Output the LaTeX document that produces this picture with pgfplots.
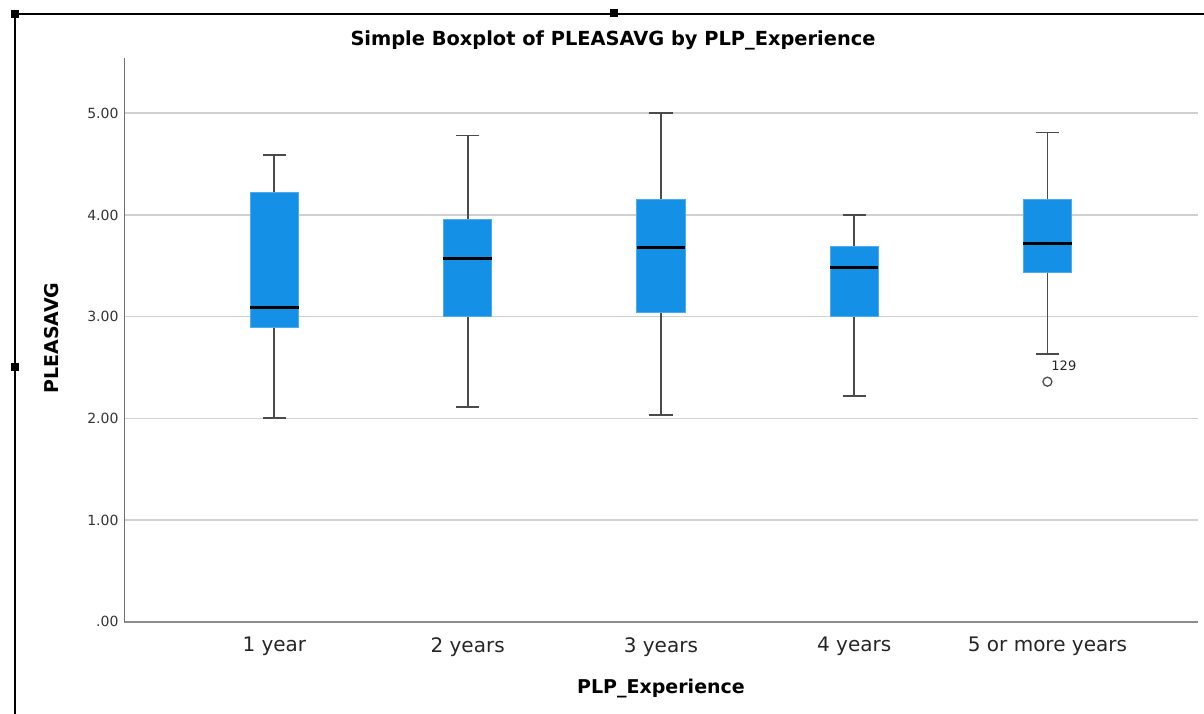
\documentclass[border=0pt]{standalone}
\usepackage{pgfplots}
\pgfplotsset{compat=1.18}
\usepgfplotslibrary{statistics}
\usepackage{fontspec}
\setmainfont{DejaVu Sans}
\definecolor{boxblue}{RGB}{20,145,230}
\definecolor{gridgray}{RGB}{208,208,208}
\definecolor{whisk}{RGB}{75,75,75}
\definecolor{axgray}{RGB}{140,140,140}
\begin{document}
\begin{tikzpicture}[x=1pt,y=1pt]
\path[use as bounding box] (0,0) rectangle (1204,714);
\begin{axis}[
  at={(124pt,92.3pt)}, anchor=south west,
  scale only axis, width=1074pt, height=563.7pt,
  xmin=0.222, xmax=5.779, ymin=0, ymax=5.543,
  axis x line*=bottom, axis y line*=left,
  x axis line style={-, draw=axgray, line width=1.8pt},
  y axis line style={-, draw=axgray!80!black, line width=0.9pt},
  xtick={1,2,3,4,5},
  xticklabels={1 year,2 years,3 years,4 years,5 or more years},
  ytick={0,1,2,3,4,5},
  yticklabels={.00,1.00,2.00,3.00,4.00,5.00},
  ymajorgrids, grid style={gridgray, line width=1.6pt},
  major tick length=0pt,
  x tick label style={font=\fontsize{20}{24}\selectfont, text=black!85, yshift=-12pt},
  y tick label style={font=\fontsize{14}{17}\selectfont, text=black!80, xshift=-2pt},
  boxplot/draw direction=y,
  boxplot/box extend=0.25,
  boxplot/whisker extend=0.12,
  boxplot/every box/.style={draw=boxblue!75!white, fill=boxblue, line width=0.6pt},
  boxplot/every median/.style={draw=black, line width=2.6pt},
  boxplot/every whisker/.style={draw=whisk, line width=1.8pt},
  clip=false,
]
\addplot[boxplot prepared={lower whisker=2.00, lower quartile=2.89, median=3.09, upper quartile=4.22, upper whisker=4.59, draw position=1}] coordinates {};
\addplot[boxplot prepared={lower whisker=2.11, lower quartile=3.00, median=3.57, upper quartile=3.96, upper whisker=4.78, draw position=2}] coordinates {};
\addplot[boxplot prepared={lower whisker=2.03, lower quartile=3.04, median=3.68, upper quartile=4.15, upper whisker=5.00, draw position=3}] coordinates {};
\addplot[boxplot prepared={lower whisker=2.22, lower quartile=3.00, median=3.48, upper quartile=3.69, upper whisker=4.00, draw position=4}] coordinates {};
\addplot[boxplot prepared={lower whisker=2.63, lower quartile=3.44, median=3.72, upper quartile=4.15, upper whisker=4.81, draw position=5},
  mark=o, mark size=4.5pt, mark options={draw=whisk, line width=1.3pt}] coordinates {(0,2.36)};
\node[font=\fontsize{13}{16}\selectfont, text=black!85] at (axis cs:5.085,2.52) {129};
\end{axis}
% viewer frame
\draw[line width=1.4pt] (15,700) -- (1204,700);
\draw[line width=1.4pt] (15,700) -- (15,0);
\fill (11,696) rectangle (19,704);
\fill (610,697) rectangle (618,705);
\fill (11,343) rectangle (19,351);
% titles
\node[font=\bfseries\fontsize{19.4}{23}\selectfont] at (613,674) {Simple Boxplot of PLEASAVG by PLP\_Experience};
\node[rotate=90, font=\bfseries\fontsize{19}{23}\selectfont] at (52,376) {PLEASAVG};
\node[font=\bfseries\fontsize{19}{23}\selectfont] at (661,25) {PLP\_Experience};
\end{tikzpicture}
\end{document}
